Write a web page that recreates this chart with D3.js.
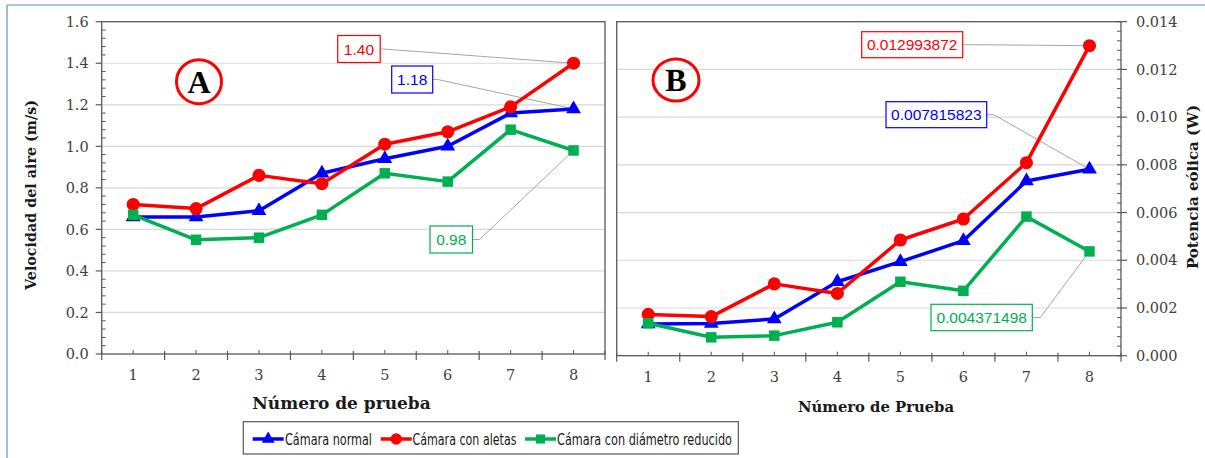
<!DOCTYPE html>
<html>
<head>
<meta charset="utf-8">
<script src="https://cdn.jsdelivr.net/npm/d3@7"></script>
<style>
  body { margin: 0; background: #fff; }
  svg { display: block; }
</style>
</head>
<body>
<div id="chart"></div>
<script>
// data
var pruebas = [1, 2, 3, 4, 5, 6, 7, 8];
var series = ['Cámara normal', 'Cámara con aletas', 'Cámara con diámetro reducido'];

var velNormal   = [0.66, 0.66, 0.69, 0.87, 0.94, 1.00, 1.16, 1.18];
var velAletas   = [0.72, 0.70, 0.86, 0.82, 1.01, 1.07, 1.19, 1.40];
var velReducido = [0.67, 0.55, 0.56, 0.67, 0.87, 0.83, 1.08, 0.98];

var potNormal   = [0.00133, 0.00135, 0.00154, 0.00310, 0.00394, 0.00482, 0.00732, 0.007815823];
var potAletas   = [0.00173, 0.00164, 0.00301, 0.00261, 0.00485, 0.00573, 0.00809, 0.012993872];
var potReducido = [0.00136, 0.00077, 0.00084, 0.00140, 0.00310, 0.00272, 0.00583, 0.004371498];

var velTicks = [0, 0.2, 0.4, 0.6, 0.8, 1.0, 1.2, 1.4, 1.6];
var potTicks = [0, 0.002, 0.004, 0.006, 0.008, 0.010, 0.012, 0.014];

var colors = ['#0000ff', '#ff0000', '#00b050'];
var symbols = [d3.symbolTriangle, d3.symbolCircle, d3.symbolSquare];
var symSizes = [95, 135, 110];

var W = 1205, H = 458;
var svg = d3.select('#chart').append('svg')
  .attr('width', W).attr('height', H);

// light blue frame of the picture
svg.append('line').attr('x1', 7).attr('x2', W).attr('y1', 5).attr('y2', 5)
  .attr('stroke', '#5b8fd0').attr('stroke-width', 1.2);
svg.append('line').attr('x1', 7).attr('x2', 7).attr('y1', 5).attr('y2', H)
  .attr('stroke', '#9bbbe0').attr('stroke-width', 2);

var serif = '"DejaVu Serif", "Liberation Serif", serif';
var sans = '"Liberation Sans", Arial, sans-serif';

function drawPanel(p) {
  var g = svg.append('g').classed('panel', true);

  var x = d3.scaleBand().domain(pruebas).range([p.x0, p.x1]);
  var y = d3.scaleLinear().domain(p.domain).range([p.yBot, p.yTop]);
  var axisX = p.axisSide === 'left' ? p.x0 : p.x1;
  var dir = p.axisSide === 'left' ? -1 : 1;

  // gridlines
  g.selectAll('.grid')
    .data(p.ticks.slice(1, -1))
    .enter().append('line')
    .attr('x1', p.x0).attr('x2', p.x1)
    .attr('y1', d => y(d)).attr('y2', d => y(d))
    .attr('stroke', '#d9d9d9').attr('stroke-width', 1.2);

  // plot area frame
  g.append('rect')
    .attr('x', p.x0).attr('y', p.yTop)
    .attr('width', p.x1 - p.x0).attr('height', p.yBot - p.yTop)
    .attr('fill', 'none').attr('stroke', '#595959').attr('stroke-width', 1.3);

  // y minor ticks (inside)
  var minors = d3.range(0, p.ticks.length - 1).flatMap(i =>
    [1, 2, 3, 4].map(k => p.ticks[i] + (p.ticks[i + 1] - p.ticks[i]) * k / 5));
  g.selectAll('.ymin')
    .data(minors)
    .enter().append('line')
    .attr('x1', axisX).attr('x2', axisX - dir * 4)
    .attr('y1', d => y(d)).attr('y2', d => y(d))
    .attr('stroke', '#595959').attr('stroke-width', 1);

  // y major ticks (outside)
  g.selectAll('.ymaj')
    .data(p.ticks)
    .enter().append('line')
    .attr('x1', axisX - (p.axisSide === 'left' ? 0 : 4)).attr('x2', axisX + dir * 6)
    .attr('y1', d => y(d)).attr('y2', d => y(d))
    .attr('stroke', '#595959').attr('stroke-width', 1.2);

  g.selectAll('.ylab')
    .data(p.ticks)
    .enter().append('text')
    .attr('x', p.axisSide === 'left' ? axisX - 13 : axisX + 15)
    .attr('y', d => y(d))
    .attr('dy', '0.36em')
    .attr('text-anchor', p.axisSide === 'left' ? 'end' : 'start')
    .style('font-family', serif)
    .style('font-size', '14.5px')
    .attr('fill', '#404040')
    .text(d => d3.format(p.fmt)(d));

  // x ticks: boundaries (major) and centres (minor)
  var bounds = pruebas.map(d => x(d)).concat([p.x1]);
  g.selectAll('.xmaj')
    .data(bounds)
    .enter().append('line')
    .attr('x1', d => d).attr('x2', d => d)
    .attr('y1', p.yBot - 3).attr('y2', p.yBot + 6)
    .attr('stroke', '#595959').attr('stroke-width', 1.2);
  g.selectAll('.xmin')
    .data(pruebas)
    .enter().append('line')
    .attr('x1', d => x(d) + x.bandwidth() / 2).attr('x2', d => x(d) + x.bandwidth() / 2)
    .attr('y1', p.yBot - 4).attr('y2', p.yBot)
    .attr('stroke', '#595959').attr('stroke-width', 1);
  g.selectAll('.xlab')
    .data(pruebas)
    .enter().append('text')
    .attr('x', d => x(d) + x.bandwidth() / 2)
    .attr('y', p.yBot + 21)
    .attr('dy', '0.36em')
    .attr('text-anchor', 'middle')
    .style('font-family', serif)
    .style('font-size', '14.5px')
    .attr('fill', '#404040')
    .text(d => d);

  // axis titles
  g.append('text')
    .attr('x', p.xTitle[0]).attr('y', p.xTitle[1])
    .attr('text-anchor', 'middle')
    .style('font-family', serif).style('font-weight', 700)
    .style('font-size', p.xTitle[2] + 'px')
    .attr('fill', '#1a1a1a')
    .text(p.xTitle[3]);
  g.append('text')
    .attr('transform', 'translate(' + p.yTitle[0] + ',' + p.yTitle[1] + ') rotate(-90)')
    .attr('text-anchor', 'middle')
    .attr('dy', '0.35em')
    .style('font-family', serif).style('font-weight', 700)
    .style('font-size', p.yTitle[2] + 'px')
    .attr('fill', '#1a1a1a')
    .text(p.yTitle[3]);

  // circled letter
  g.append('ellipse')
    .attr('cx', p.badge[0]).attr('cy', p.badge[1])
    .attr('rx', p.badge[2]).attr('ry', p.badge[3])
    .attr('fill', 'none').attr('stroke', '#ff0000').attr('stroke-width', 3);
  g.append('text')
    .attr('x', p.badge[0]).attr('y', p.badge[1])
    .attr('dy', '0.35em')
    .attr('text-anchor', 'middle')
    .style('font-family', '"Liberation Serif", "Times New Roman", serif')
    .style('font-weight', 700).style('font-size', '32px')
    .text(p.badge[4]);

  var cx = d => x(d) + x.bandwidth() / 2;
  var line = d3.line().x((d, i) => cx(pruebas[i])).y(d => y(d));

  // leader lines and value boxes for the last point (drawn under the series)
  p.labels.forEach((lb, s) => {
    var vals = p.data[s];
    var last = vals[vals.length - 1];
    var px = cx(pruebas[pruebas.length - 1]), py = y(last);
    var midY = lb.y + lb.h / 2;
    g.append('polyline')
      .attr('points', [[lb.x + lb.w, midY], [lb.x + lb.w + lb.elbow, midY], [px, py]].join(' '))
      .attr('fill', 'none').attr('stroke', '#a6a6a6').attr('stroke-width', 1);
  });

  p.data.forEach((vals, s) => {
    g.append('path')
      .datum(vals)
      .attr('d', line)
      .attr('fill', 'none')
      .attr('stroke', colors[s])
      .attr('stroke-width', 3.5)
      .attr('stroke-linejoin', 'round');
    g.selectAll('.m' + s)
      .data(vals)
      .enter().append('path')
      .attr('transform', (d, i) => 'translate(' + cx(pruebas[i]) + ',' + y(d) + ')')
      .attr('d', d3.symbol().type(symbols[s]).size(symSizes[s]))
      .attr('fill', colors[s]);
  });

  p.labels.forEach((lb, s) => {
    var vals = p.data[s];
    g.append('rect')
      .attr('x', lb.x).attr('y', lb.y).attr('width', lb.w).attr('height', lb.h)
      .attr('fill', '#fff').attr('stroke', colors[s]).attr('stroke-width', 1.2);
    g.append('text')
      .attr('x', lb.x + lb.w / 2).attr('y', lb.y + lb.h / 2)
      .attr('dy', '0.36em')
      .attr('text-anchor', 'middle')
      .style('font-family', sans).style('font-size', '15.5px')
      .attr('fill', colors[s])
      .text(p.labelFmt(vals[vals.length - 1]));
  });
}

drawPanel({
  x0: 101.7, x1: 605, yTop: 21.7, yBot: 354,
  domain: [0, 1.6], ticks: velTicks, fmt: '.1f', axisSide: 'left',
  data: [velNormal, velAletas, velReducido],
  labelFmt: v => v.toFixed(2),
  labels: [
    { x: 391.7, y: 66, w: 41, h: 27, elbow: 5 },
    { x: 337.7, y: 35.5, w: 42.5, h: 27, elbow: 3 },
    { x: 430, y: 226, w: 42.5, h: 27, elbow: 7 }
  ],
  xTitle: [341.5, 409, 17, 'Número de prueba'],
  yTitle: [31, 195, 14.3, 'Velocidad del aire (m/s)'],
  badge: [199, 81.7, 22.5, 22, 'A']
});

drawPanel({
  x0: 616.7, x1: 1121, yTop: 21.7, yBot: 355.7,
  domain: [0, 0.014], ticks: potTicks, fmt: '.3f', axisSide: 'right',
  data: [potNormal, potAletas, potReducido],
  labelFmt: v => String(v),
  labels: [
    { x: 886, y: 101.7, w: 100.7, h: 26, elbow: 7 },
    { x: 861.7, y: 31.7, w: 101, h: 26, elbow: 8 },
    { x: 931, y: 304.3, w: 101.3, h: 26.4, elbow: 8 }
  ],
  xTitle: [876, 412, 14.8, 'Número de Prueba'],
  yTitle: [1193, 187, 15, 'Potencia eólica (W)'],
  badge: [676, 80, 23, 21, 'B']
});

// legend
var legend = svg.append('g').classed('legend', true);
legend.append('rect')
  .attr('x', 243.3).attr('y', 421.7).attr('width', 495).attr('height', 32.3)
  .attr('fill', '#fff').attr('stroke', '#595959').attr('stroke-width', 1.2);
var legItems = [
  { x: 252.7, tx: 285, tw: 87 },
  { x: 380.7, tx: 412.5, tw: 104 },
  { x: 525, tx: 557, tw: 175 }
];
legItems.forEach((it, s) => {
  var ly = 439;
  legend.append('line')
    .attr('x1', it.x).attr('x2', it.x + 31).attr('y1', ly).attr('y2', ly)
    .attr('stroke', colors[s]).attr('stroke-width', 3.5);
  legend.append('path')
    .attr('transform', 'translate(' + (it.x + 15.5) + ',' + ly + ')')
    .attr('d', d3.symbol().type(symbols[s]).size(symSizes[s] * 0.75))
    .attr('fill', colors[s]);
  legend.append('text')
    .attr('x', it.tx).attr('y', ly)
    .attr('dy', '0.36em')
    .attr('textLength', it.tw)
    .attr('lengthAdjust', 'spacingAndGlyphs')
    .style('font-family', '"Liberation Sans Narrow", "DejaVu Sans Condensed", sans-serif')
    .style('font-size', '16px')
    .attr('fill', '#1a1a1a')
    .text(series[s]);
});
</script>
</body>
</html>
